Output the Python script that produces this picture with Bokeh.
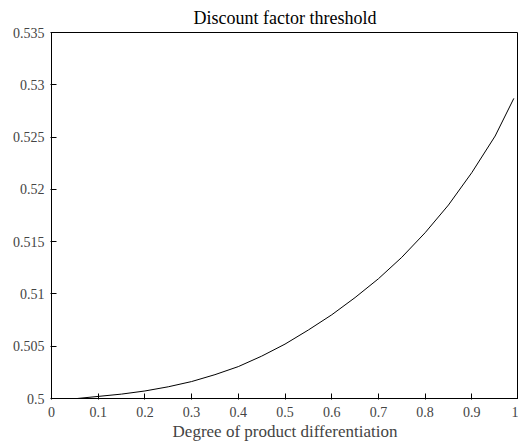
from bokeh.plotting import figure
from bokeh.models import FixedTicker, Range1d
from bokeh.embed import file_html
from bokeh.resources import INLINE

# data
x_vals = [0.055, 0.10, 0.15, 0.20, 0.25, 0.30, 0.35, 0.40, 0.45, 0.50,
          0.55, 0.60, 0.65, 0.70, 0.75, 0.80, 0.85, 0.90, 0.95, 0.99]
y_vals = [0.50000, 0.50020, 0.50042, 0.50072, 0.50112, 0.50162, 0.50228, 0.50305, 0.50405, 0.50520,
          0.50655, 0.50800, 0.50965, 0.51145, 0.51350, 0.51585, 0.51850, 0.52160, 0.52510, 0.52870]

x_ticks = [0, 0.1, 0.2, 0.3, 0.4, 0.5, 0.6, 0.7, 0.8, 0.9, 1.0]
x_tick_labels = ["0", "0.1", "0.2", "0.3", "0.4", "0.5", "0.6", "0.7", "0.8", "0.9", "1"]
y_ticks = [0.5, 0.505, 0.51, 0.515, 0.52, 0.525, 0.53, 0.535]
y_tick_labels = ["0.5", "0.505", "0.51", "0.515", "0.52", "0.525", "0.53", "0.535"]

title_text = "Discount factor threshold"
x_label = "Degree of product differentiation"

FONT = "Liberation Serif"

p = figure(width=518, height=446,
           x_range=Range1d(0, 1), y_range=Range1d(0.5, 0.535),
           output_backend="svg", toolbar_location=None,
           min_border_left=51, min_border_right=0, min_border_top=29, min_border_bottom=48)
p.outline_line_color = "black"
p.outline_line_width = 1
p.grid.visible = False

p.title.text = title_text
p.title.align = "center"
p.title.text_font = FONT
p.title.text_font_size = "18px"
p.title.text_font_style = "normal"
p.title.text_color = "black"

xa = p.xaxis[0]
xa.ticker = FixedTicker(ticks=x_ticks)
xa.major_label_overrides = {t: l for t, l in zip(x_ticks, x_tick_labels)}
xa.axis_line_color = "black"
xa.major_tick_line_color = "black"
xa.major_tick_in = 5
xa.major_tick_out = 1
xa.minor_tick_line_color = None
xa.major_label_text_font = FONT
xa.major_label_text_font_size = "14px"
xa.major_label_standoff = 7
xa.axis_label = x_label
xa.axis_label_text_font = FONT
xa.axis_label_text_font_size = "17px"
xa.axis_label_text_font_style = "normal"
xa.axis_label_standoff = 2

ya = p.yaxis[0]
ya.ticker = FixedTicker(ticks=y_ticks)
ya.major_label_overrides = {t: l for t, l in zip(y_ticks, y_tick_labels)}
ya.axis_line_color = "black"
ya.major_tick_line_color = "black"
ya.major_tick_in = 5
ya.major_tick_out = 1
ya.minor_tick_line_color = None
ya.major_label_text_font = FONT
ya.major_label_text_font_size = "14px"
ya.major_label_standoff = 6

p.line(x_vals, y_vals, line_color="black", line_width=1)

open("out.html", "w").write(file_html(p, INLINE))
